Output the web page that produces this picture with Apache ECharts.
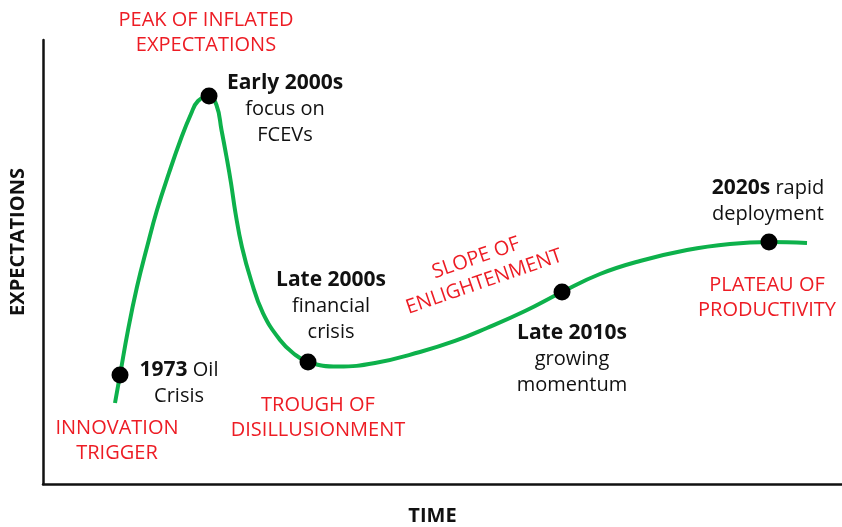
<!DOCTYPE html>
<html>
<head>
<meta charset="utf-8">
<title>Hype cycle</title>
<script src="https://cdn.jsdelivr.net/npm/echarts@6/dist/echarts.min.js"></script>
<style>
    html, body { margin: 0; padding: 0; background: #fff; }
    #container { width: 842px; height: 527px; }
</style>
</head>
<body>
<div id="container"></div>
<script>
// curve (x: time 0-100, y: expectations 0-100)
var curveX = [9.01, 9.64, 10.64, 11.76, 13.02, 14.27, 15.77, 17.21, 18.52, 19.40, 20.78, 21.71, 22.34, 22.97, 23.53, 24.09, 24.90, 26.03, 27.53, 29.66, 31.29, 33.17, 36.92, 41.55, 47.18, 51.56, 55.57, 60.33, 64.96, 69.71, 74.72, 80.60, 85.98, 90.86, 95.62];
var curveY = [18.24, 24.55, 34.68, 44.37, 53.38, 61.71, 70.05, 77.48, 83.33, 86.26, 87.39, 85.36, 79.73, 73.65, 67.79, 61.04, 53.38, 45.95, 38.51, 32.43, 29.50, 27.48, 26.45, 27.25, 29.73, 32.21, 35.14, 38.96, 43.24, 47.30, 50.23, 52.70, 54.05, 54.50, 54.28];

// milestones on the curve
var milestoneX = [9.64, 20.78, 33.17, 64.96, 90.86];
var milestoneY = [24.55, 87.39, 27.48, 43.24, 54.50];
var milestoneText = [
    '{b|1973} Oil\nCrisis',
    '{b|Early 2000s}\nfocus on\nFCEVs',
    '{b|Late 2000s}\nfinancial\ncrisis',
    '{b|Late 2010s}\ngrowing\nmomentum',
    '{b|2020s} rapid\ndeployment'
];

// phases of the cycle
var phaseText = [
    'PEAK OF INFLATED\nEXPECTATIONS',
    'INNOVATION\nTRIGGER',
    'TROUGH OF\nDISILLUSIONMENT',
    'SLOPE OF\nENLIGHTENMENT',
    'PLATEAU OF\nPRODUCTIVITY'
];

var FONT = '"Open Sans", "Noto Sans", sans-serif';
var GREEN = '#0db14b';
var RED = '#ed1c24';

var labelOffsets = [[59, 8], [76, 13], [23, -56], [10, 67], [-1, -41]];
var phasePos = [[206, 33, 0], [117, 441, 0], [318, 418, 0], [480, 270, 19], [767, 298, 0]];

var chart = echarts.init(document.getElementById('container'));

var curveData = curveX.map(function (x, i) { return [x, curveY[i]]; });
var milestoneData = milestoneX.map(function (x, i) {
    return {
        value: [x, milestoneY[i]],
        label: { offset: labelOffsets[i], formatter: milestoneText[i] }
    };
});

var option = {
    animation: false,
    grid: { left: 43, right: 0, top: 40, bottom: 43, outerBoundsMode: 'none', containLabel: false },
    xAxis: {
        type: 'value',
        min: 0,
        max: 100,
        name: 'TIME',
        nameLocation: 'middle',
        nameGap: 22,
        nameTextStyle: { fontFamily: FONT, fontWeight: 'bold', fontSize: 20, color: '#111', padding: [0, 20, 0, 0] },
        axisLine: { show: true, lineStyle: { color: '#111', width: 2.5 } },
        axisTick: { show: false },
        axisLabel: { show: false },
        splitLine: { show: false }
    },
    yAxis: {
        type: 'value',
        min: 0,
        max: 100,
        name: 'EXPECTATIONS',
        nameLocation: 'middle',
        nameGap: 15,
        nameTextStyle: { fontFamily: FONT, fontWeight: 'bold', fontSize: 20, color: '#111', padding: [0, 0, 0, 40] },
        axisLine: { show: true, lineStyle: { color: '#111', width: 2.5 } },
        axisTick: { show: false },
        axisLabel: { show: false },
        splitLine: { show: false }
    },
    series: [
        {
            type: 'line',
            data: curveData,
            smooth: 0.45,
            showSymbol: false,
            lineStyle: { color: GREEN, width: 4 },
            z: 2
        },
        {
            type: 'scatter',
            data: milestoneData,
            symbolSize: 17,
            itemStyle: { color: '#000', opacity: 1 },
            label: {
                show: true,
                position: 'inside',
                align: 'center',
                verticalAlign: 'middle',
                fontFamily: FONT,
                fontSize: 20,
                lineHeight: 26,
                color: '#111',
                rich: {
                    b: { fontFamily: FONT, fontSize: 21, fontWeight: 'bold', lineHeight: 26, color: '#111' }
                }
            },
            z: 3
        }
    ],
    graphic: phaseText.map(function (t, i) {
        return {
            type: 'text',
            x: phasePos[i][0],
            y: phasePos[i][1],
            rotation: phasePos[i][2] * Math.PI / 180,
            style: {
                text: t,
                fill: RED,
                fontFamily: FONT,
                fontSize: 20,
                lineHeight: 25,
                align: 'center',
                verticalAlign: 'middle'
            }
        };
    })
};

chart.setOption(option);
</script>
</body>
</html>
